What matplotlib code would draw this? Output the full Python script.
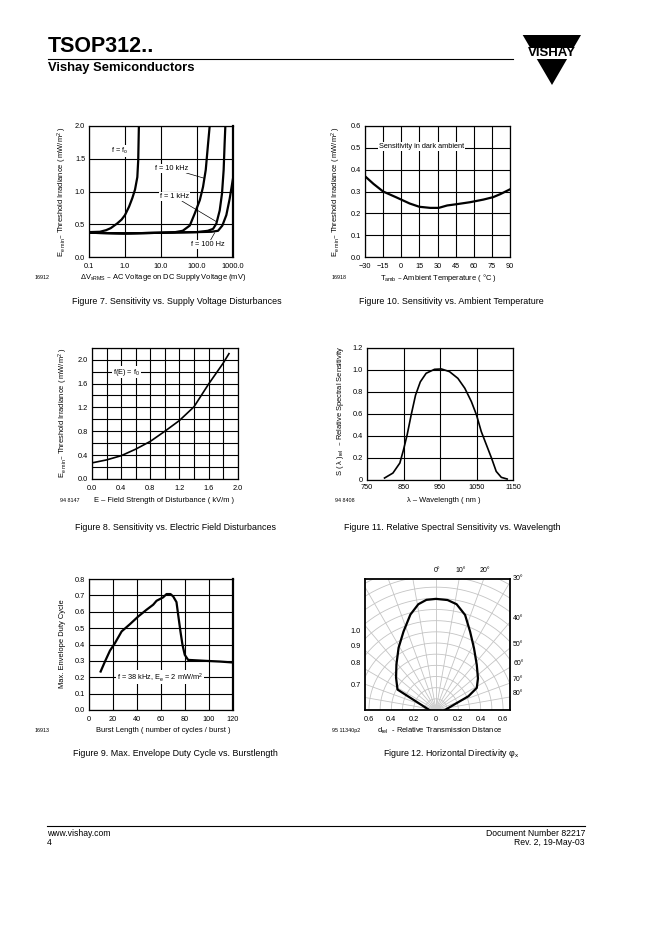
import numpy as np
import matplotlib
matplotlib.use("Agg")
import matplotlib.pyplot as plt
from matplotlib.ticker import NullLocator
from matplotlib.patches import Polygon, Rectangle, Wedge

plt.rcParams['font.family'] = ['Liberation Sans', 'DejaVu Sans']
plt.rcParams['mathtext.default'] = 'regular'

# ---- data ----
# Fig 7: threshold irradiance vs AC voltage on supply (mV), four frequencies
v_f0 = [0.1, 0.2, 0.3, 0.4, 0.6, 0.8, 1.0, 1.3, 1.6, 1.9, 2.2, 2.33, 2.43]
e_f0 = [0.38, 0.385, 0.41, 0.44, 0.51, 0.57, 0.64, 0.77, 0.9, 1.03, 1.22, 1.48, 2.0]
v_10k = [0.1, 1, 10, 25, 40, 63, 86, 120, 147, 175, 203, 225]
e_10k = [0.37, 0.36, 0.37, 0.38, 0.40, 0.48, 0.66, 0.87, 1.07, 1.33, 1.73, 2.0]
v_1k = [0.1, 1, 10, 100, 200, 280, 345, 427, 495, 550, 585, 613]
e_1k = [0.37, 0.36, 0.37, 0.38, 0.40, 0.43, 0.51, 0.71, 0.97, 1.33, 1.73, 2.0]
v_100 = [0.1, 1, 10, 100, 250, 384, 506, 653, 809, 1000]
e_100 = [0.37, 0.36, 0.37, 0.38, 0.385, 0.40, 0.48, 0.64, 0.89, 1.2]
v_ticks = [0.1, 1, 10, 100, 1000]
v_ticklabels = ["0.1", "1.0", "10.0", "100.0", "1000.0"]

# Fig 10: threshold irradiance vs ambient temperature
t_amb = [-30, -23, -15, -4, 7, 15, 24, 31, 38, 46, 57, 68, 76, 82, 90]
e_amb = [0.37, 0.335, 0.30, 0.273, 0.245, 0.23, 0.225, 0.225, 0.236, 0.242,
         0.251, 0.263, 0.274, 0.288, 0.31]
t_ticklabels = ["\u221230", "\u221215", "0", "15", "30", "45", "60", "75", "90"]

# Fig 8: threshold irradiance vs field strength
field = [0, 0.2, 0.4, 0.6, 0.8, 1.0, 1.2, 1.4, 1.6, 1.8, 1.88]
e_field = [0.27, 0.32, 0.39, 0.5, 0.63, 0.8, 0.98, 1.21, 1.59, 1.94, 2.1]

# Fig 11: relative spectral sensitivity
wavelength = [798, 821, 840, 850, 860, 871, 883, 896, 912, 935, 954, 976, 999,
              1018, 1036, 1050, 1063, 1077, 1091, 1104, 1118, 1134]
s_rel = [0.018, 0.063, 0.154, 0.274, 0.41, 0.59, 0.77, 0.89, 0.968, 1.004, 1.007,
         0.983, 0.922, 0.832, 0.711, 0.59, 0.44, 0.32, 0.2, 0.078, 0.024, 0.009]

# Fig 9: max envelope duty cycle vs burst length
burst = [9.7, 13.3, 17.5, 21.6, 27.2, 34.1, 41, 47.9, 53.5, 56.3, 61.8, 64.6,
         67.9, 70.1, 72.9, 74.3, 76.2, 77.9, 79.8, 82.6, 97.8, 108.9, 120]
duty = [0.235, 0.296, 0.363, 0.408, 0.48, 0.524, 0.571, 0.612, 0.643, 0.667,
        0.688, 0.708, 0.708, 0.694, 0.659, 0.582, 0.48, 0.398, 0.337, 0.306,
        0.30, 0.296, 0.29]

# Fig 12: horizontal directivity, angle (deg) and relative distance
phi = [-90, -62, -51, -41, -31, -22.5, -15, -9.5, -5, 0, 6, 11, 17, 23.5,
       31.5, 42, 53, 61.5, 67, 71.5, 90]
d_rel = [0.06, 0.39, 0.46, 0.54, 0.65, 0.76, 0.885, 0.96, 0.99, 0.995, 0.99,
         0.965, 0.89, 0.765, 0.65, 0.545, 0.47, 0.415, 0.315, 0.195, 0.08]
top_angles = [0, 10, 20]
side_angles = [30, 40, 50, 60, 70, 80]
left_rings = [1.0, 0.9, 0.8, 0.7]

W, H = 662, 936
fig = plt.figure(figsize=(W / 100, H / 100), dpi=100)

# overlay in pixel coords for page furniture
page = fig.add_axes([0, 0, 1, 1])
page.set_xlim(0, W)
page.set_ylim(H, 0)
page.axis('off')


def add_ax(l, t, r, b):
    return fig.add_axes([l / W, 1 - b / H, (r - l) / W, (b - t) / H])


def style(ax, xpad=4.3, ypad=2.8):
    ax.grid(True, color='black', lw=0.8)
    ax.set_axisbelow(True)
    ax.tick_params(length=0, labelsize=5.3)
    ax.tick_params(axis='x', pad=xpad)
    ax.tick_params(axis='y', pad=ypad)
    for s in ax.spines.values():
        s.set_linewidth(0.9)


def labels(xlab, xc, xy, ylab, yx, yc, num, numx, caption, capx, capy):
    page.text(xc, xy, xlab, fontsize=5.4, ha='center', va='center')
    page.text(yx, yc, ylab, fontsize=5.4, ha='center', va='center', rotation=90)
    page.text(numx, xy, num, fontsize=3.9, ha='left', va='center')
    page.text(capx, capy, caption, fontsize=6.4, ha='center', va='center')


box = dict(facecolor='white', edgecolor='none', pad=0.6)
ylab_ee = "E$_{e\\ min}$\u2013 Threshold Irradiance ( mW/m$^{2}$ )"

# ---------- Fig 7 ----------
ax = add_ax(89, 126, 233, 257)
style(ax)
ax.set_xscale('log')
for v, e in [(v_f0, e_f0), (v_10k, e_10k), (v_1k, e_1k), (v_100, e_100)]:
    ax.plot(v, e, color='black', lw=1.6, solid_capstyle='butt')
ax.set_xlim(0.1, 1000)
ax.set_ylim(0, 2.0)
ax.set_xticks(v_ticks)
ax.set_xticklabels(v_ticklabels)
ax.xaxis.set_minor_locator(NullLocator())
ax.set_yticks([0, 0.5, 1.0, 1.5, 2.0])
ax.set_yticklabels(["0.0", "0.5", "1.0", "1.5", "2.0"])
ax.spines['right'].set_linewidth(1.6)
ax.text(0.72, 1.62, "f = f$_{o}$", fontsize=5.3, ha='center', va='center', bbox=box)
arrow = dict(arrowstyle='-', lw=0.5, color='black', shrinkA=0, shrinkB=0)
ax.annotate("f = 10 kHz", xy=(164, 1.2), xytext=(19.5, 1.35), fontsize=5.3,
            ha='center', va='center', bbox=box, arrowprops=arrow)
ax.annotate("f = 1 kHz", xy=(345, 0.54), xytext=(24, 0.92), fontsize=5.3,
            ha='center', va='center', bbox=box, arrowprops=arrow)
ax.annotate("f = 100 Hz", xy=(310, 0.37), xytext=(203, 0.19), fontsize=5.3,
            ha='center', va='center', bbox=box, arrowprops=arrow)
labels("\u0394V$_{sRMS}$ \u2013 AC Voltage on DC Supply Voltage (mV)", 163, 277.7,
       ylab_ee, 62.7, 191.5, "16912", 35,
       "Figure 7. Sensitivity vs. Supply Voltage Disturbances", 176.7, 301.7)

# ---------- Fig 10 ----------
ax = add_ax(365, 126, 510, 257)
style(ax)
ax.plot(t_amb, e_amb, color='black', lw=1.6)
ax.set_xlim(-30, 90)
ax.set_ylim(0, 0.6)
ax.set_xticks(range(-30, 91, 15))
ax.set_xticklabels(t_ticklabels)
ax.set_yticks(np.arange(0, 0.61, 0.1))
ax.set_yticklabels(["0.0", "0.1", "0.2", "0.3", "0.4", "0.5", "0.6"])
ax.text(17, 0.505, "Sensitivity in dark ambient", fontsize=5.3, ha='center',
        va='center', bbox=box)
labels("T$_{amb}$ \u2013 Ambient Temperature ( \u00b0C )", 438.3, 277.7,
       ylab_ee, 336.7, 191.5, "16918", 331.7,
       "Figure 10. Sensitivity vs. Ambient Temperature", 451.7, 301.7)

# ---------- Fig 8 ----------
ax = add_ax(92, 347.7, 237.7, 479)
style(ax)
ax.plot(field, e_field, color='black', lw=1.2)
ax.set_xlim(0, 2.0)
ax.set_ylim(0, 2.2)
ax.set_xticks(np.arange(0, 2.01, 0.2))
ax.set_xticklabels([f"{v:.1f}" if i % 2 == 0 else "" for i, v in
                    enumerate(np.arange(0, 2.01, 0.2))])
ax.set_yticks(np.arange(0, 2.21, 0.2))
ax.set_yticklabels([f"{v:.1f}" if i % 2 == 0 and v < 2.1 else "" for i, v in
                    enumerate(np.arange(0, 2.21, 0.2))])
ax.text(0.47, 1.79, "f(E) = f$_{0}$", fontsize=5.3, ha='center', va='center', bbox=box)
labels("E \u2013 Field Strength of Disturbance ( kV/m )", 164, 500.7,
       ylab_ee, 63.3, 413, "94 8147", 60,
       "Figure 8. Sensitivity vs. Electric Field Disturbances", 175.7, 527.7)

# ---------- Fig 11 ----------
ax = add_ax(367, 347.7, 513, 480)
style(ax, xpad=2.7, ypad=2.8)
ax.plot(wavelength, s_rel, color='black', lw=1.2)
ax.set_xlim(750, 1150)
ax.set_ylim(0, 1.2)
ax.set_xticks([750, 850, 950, 1050, 1150])
ax.set_yticks(np.arange(0, 1.21, 0.2))
ax.set_yticklabels(["0", "0.2", "0.4", "0.6", "0.8", "1.0", "1.2"])
labels("\u03bb \u2013 Wavelength ( nm )", 443.3, 500.7,
       "S ( \u03bb )$_{rel}$  \u2013 Relative Spectral Sensitivity", 340, 411,
       "94 8408", 335,
       "Figure 11. Relative Spectral Sensitivity vs. Wavelength", 452.3, 527.7)

# ---------- Fig 9 ----------
ax = add_ax(89, 579, 233, 710)
style(ax)
ax.plot(burst, duty, color='black', lw=1.6)
ax.set_xlim(0, 120)
ax.set_ylim(0, 0.8)
ax.set_xticks(range(0, 121, 20))
ax.set_yticks(np.arange(0, 0.81, 0.1))
ax.set_yticklabels([f"{v:.1f}" for v in np.arange(0, 0.81, 0.1)])
ax.spines['right'].set_linewidth(1.6)
ax.text(59, 0.2, "f = 38 kHz, E$_{e}$ = 2 mW/m$^{2}$", fontsize=5.3, ha='center',
        va='center', bbox=box)
labels("Burst Length ( number of cycles / burst )", 163, 730.7,
       "Max. Envelope Duty Cycle", 62.3, 644, "16913", 35,
       "Figure 9. Max. Envelope Duty Cycle vs. Burstlength", 175.7, 754)

# ---------- Fig 12 ----------
ax = add_ax(364.7, 579, 510, 710)
ax.set_xlim(-0.638, 0.662)
ax.set_ylim(0, 1.173)
grey = '#c4c4c4'
for a in range(-90, 91, 10):
    r = np.radians(a)
    ax.plot([0, 2 * np.sin(r)], [0, 2 * np.cos(r)], color=grey, lw=0.6, zorder=1)
th = np.radians(np.linspace(-90, 90, 181))
for rr in np.arange(0.1, 1.35, 0.1):
    ax.plot(rr * np.sin(th), rr * np.cos(th), color=grey, lw=0.6, zorder=1)
ax.add_patch(Wedge((0, 0), 0.05, 0, 180, color='#d0d0d0', lw=0, zorder=1))
pr = np.radians(phi)
ax.plot(np.array(d_rel) * np.sin(pr), np.array(d_rel) * np.cos(pr),
        color='black', lw=1.6, zorder=3)
ax.set_xticks([-0.6, -0.4, -0.2, 0, 0.2, 0.4, 0.6])
ax.set_xticklabels(["0.6", "0.4", "0.2", "0", "0.2", "0.4", "0.6"])
ax.set_yticks([])
ax.tick_params(length=0, labelsize=5.3, pad=4.3)
for s in ax.spines.values():
    s.set_linewidth(1.3)
for a in top_angles:
    ax.text(1.173 * np.tan(np.radians(a)) + 0.01, 1.245, f"{a}\u00b0",
            fontsize=5.0, ha='center', va='center', clip_on=False)
for a in side_angles:
    ax.text(0.69, 0.662 / np.tan(np.radians(a)) + 0.03, f"{a}\u00b0",
            fontsize=5.0, ha='left', va='center', clip_on=False)
for rr in left_rings:
    ax.text(-0.67, np.sqrt(rr ** 2 - 0.64 ** 2) - 0.065, f"{rr:.1f}",
            fontsize=5.3, ha='right', va='center', clip_on=False)
labels("d$_{rel}$  - Relative Transmission Distance", 440, 730.7,
       "", 0, 0, "95 11340p2", 331.7,
       "Figure 12. Horizontal Directivity \u03c6$_{x}$", 451.7, 754)

# ---------- header / footer ----------
page.text(48, 51.7, "TSOP312..", fontsize=15.5, fontweight='bold', va='baseline')
page.plot([48, 512.7], [59.3, 59.3], color='black', lw=0.8)
page.text(48, 71, "Vishay Semiconductors", fontsize=9.4, fontweight='bold',
          va='baseline')
page.add_patch(Polygon([[522.7, 35], [581, 35], [552, 85]], closed=True,
                       facecolor='black', edgecolor='none'))
page.add_patch(Rectangle((519, 47.7), 66, 11.3, facecolor='white', edgecolor='none'))
page.text(552, 53.4, "VISHAY", fontsize=9.5, fontweight='bold', ha='center',
          va='center')

page.plot([47, 585], [826, 826], color='black', lw=0.8)
page.text(47, 836.5, "www.vishay.com", fontsize=6.2, va='baseline')
page.text(47, 845.3, "4", fontsize=6.2, va='baseline')
page.text(585, 836.5, "Document Number 82217", fontsize=6.2, ha='right', va='baseline')
page.text(585, 845.3, "Rev. 2, 19-May-03", fontsize=6.2, ha='right', va='baseline')

fig.savefig("out.png", dpi=100)
